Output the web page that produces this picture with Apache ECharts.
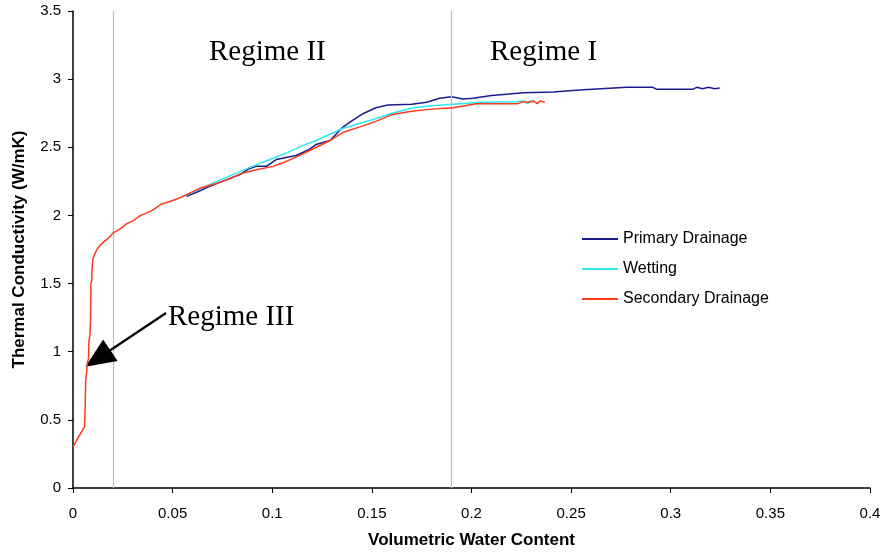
<!DOCTYPE html>
<html>
<head>
<meta charset="utf-8">
<script src="https://cdn.jsdelivr.net/npm/echarts@6/dist/echarts.min.js"></script>
<style>
  html, body { margin: 0; padding: 0; background: #fff; }
  #chart-container { width: 885px; height: 554px; }
</style>
</head>
<body>
<div id="chart-container"></div>
<script>
var dom = document.getElementById("chart-container");
var myChart = echarts.init(dom, null, { renderer: "canvas" });

var seriesNames = ["Primary Drainage", "Wetting", "Secondary Drainage"];
var seriesColors = ["#1c1c8e", "#2de8f2", "#ff3a1a"];

// [volumetric water content, thermal conductivity]
var primaryDrainage = [
  [0.057, 2.14], [0.062, 2.17], [0.068, 2.21], [0.075, 2.25], [0.0838, 2.30],
  [0.088, 2.34], [0.092, 2.36], [0.097, 2.36], [0.102, 2.41], [0.112, 2.44],
  [0.118, 2.48], [0.122, 2.52], [0.129, 2.55], [0.1356, 2.65], [0.1405, 2.70],
  [0.146, 2.75], [0.152, 2.79], [0.158, 2.81], [0.170, 2.815], [0.1775, 2.83],
  [0.184, 2.86], [0.190, 2.87], [0.1957, 2.855], [0.2007, 2.86], [0.210, 2.88],
  [0.2176, 2.89], [0.226, 2.90], [0.241, 2.905], [0.254, 2.92], [0.265, 2.93],
  [0.278, 2.94], [0.291, 2.94], [0.293, 2.925], [0.311, 2.925], [0.313, 2.94],
  [0.316, 2.93], [0.319, 2.94], [0.322, 2.93], [0.3246, 2.935]
];

var wetting = [
  [0.0545, 2.14], [0.060, 2.17], [0.066, 2.21], [0.072, 2.25], [0.082, 2.31],
  [0.090, 2.36], [0.0988, 2.41], [0.109, 2.47], [0.115, 2.51], [0.122, 2.55],
  [0.1356, 2.64], [0.145, 2.68], [0.152, 2.71], [0.160, 2.75], [0.171, 2.79],
  [0.180, 2.805], [0.1907, 2.815], [0.205, 2.83], [0.2226, 2.835], [0.2265, 2.84],
  [0.228, 2.82], [0.2295, 2.84], [0.231, 2.83]
];

var secondaryDrainage = [
  [0, 0.30], [0.003, 0.38], [0.0058, 0.45], [0.0060, 0.55], [0.0062, 0.56],
  [0.0064, 0.80], [0.0068, 0.84], [0.0072, 0.92], [0.0078, 0.95], [0.0080, 1.08],
  [0.0085, 1.12], [0.0088, 1.22], [0.0090, 1.50], [0.0094, 1.52], [0.0096, 1.62],
  [0.0100, 1.68], [0.0110, 1.72], [0.0120, 1.75], [0.0135, 1.78], [0.0150, 1.80],
  [0.0175, 1.83], [0.0200, 1.87], [0.0235, 1.90], [0.0270, 1.94], [0.0300, 1.96],
  [0.0340, 2.00], [0.0390, 2.03], [0.0440, 2.08], [0.0500, 2.11], [0.0554, 2.14],
  [0.0637, 2.20], [0.0710, 2.23], [0.0788, 2.27], [0.0850, 2.31], [0.0904, 2.33],
  [0.1004, 2.36], [0.1060, 2.39], [0.1122, 2.43], [0.1222, 2.50], [0.1290, 2.55],
  [0.1356, 2.61], [0.1440, 2.65], [0.1520, 2.69], [0.1600, 2.74], [0.1700, 2.765],
  [0.1800, 2.78], [0.1907, 2.79], [0.2025, 2.82], [0.2150, 2.82], [0.2233, 2.82],
  [0.2258, 2.835], [0.2290, 2.83], [0.2310, 2.84], [0.2330, 2.82], [0.2345, 2.84],
  [0.2368, 2.83]
];

// regime boundaries (x) and the arrow pointing at regime III
var regimeBounds = [0.02, 0.19];
var arrowFrom = [0.0467, 1.284];
var arrowTo = [0.0125, 0.95];

var allData = [primaryDrainage, wetting, secondaryDrainage];

var series = allData.map(function (d, i) {
  return {
    name: seriesNames[i],
    type: "line",
    data: d,
    symbol: "none",
    lineStyle: { width: 1.5, color: seriesColors[i] },
    itemStyle: { color: seriesColors[i] },
    z: 3 + i,
    animation: false
  };
});

// vertical regime lines + arrow go on helper series
series.push({
  name: "annot",
  type: "line",
  data: [],
  silent: true,
  animation: false,
  markLine: {
    silent: true,
    animation: false,
    symbol: ["none", "none"],
    label: { show: false },
    lineStyle: { color: "#bdbdbd", width: 1.2, type: "solid" },
    data: regimeBounds.map(function (v) { return { xAxis: v }; })
  }
});
series.push({
  name: "arrow",
  type: "line",
  data: [],
  silent: true,
  animation: false,
  markLine: {
    silent: true,
    animation: false,
    symbol: ["none", "triangle"],
    symbolSize: [26, 30],
    label: { show: false },
    lineStyle: { color: "#000", width: 2.2, type: "solid" },
    data: [[{ coord: arrowFrom }, { coord: arrowTo }]]
  }
});

var option = {
  animation: false,
  grid: { left: 73, right: 15, top: 11, bottom: 66 },
  legend: {
    data: seriesNames,
    orient: "vertical",
    left: 577,
    top: 226,
    itemWidth: 36,
    itemHeight: 2,
    itemGap: 14,
    icon: "rect",
    textStyle: { fontFamily: "Liberation Sans", fontSize: 16, color: "#000" }
  },
  xAxis: {
    type: "value",
    min: 0,
    max: 0.4,
    interval: 0.05,
    name: "Volumetric Water Content",
    nameLocation: "middle",
    nameGap: 44,
    nameTextStyle: { fontFamily: "Liberation Sans", fontSize: 17, fontWeight: "bold", color: "#000" },
    axisLine: { lineStyle: { color: "#000", width: 1.5 } },
    axisTick: { show: true, inside: false, length: 5, lineStyle: { color: "#000" } },
    axisLabel: { fontFamily: "Liberation Sans", fontSize: 15, color: "#000", margin: 18 },
    splitLine: { show: false }
  },
  yAxis: {
    type: "value",
    min: 0,
    max: 3.5,
    interval: 0.5,
    name: "Thermal Conductivity (W/mK)",
    nameLocation: "middle",
    nameGap: 45,
    nameTextStyle: { fontFamily: "Liberation Sans", fontSize: 17, fontWeight: "bold", color: "#000" },
    axisLine: { show: true, lineStyle: { color: "#000", width: 1.5 } },
    axisTick: { show: true, inside: false, length: 5, lineStyle: { color: "#000" } },
    axisLabel: { fontFamily: "Liberation Sans", fontSize: 15, color: "#000", margin: 12 },
    splitLine: { show: false }
  },
  graphic: [
    { type: "text", left: 209, top: 38, style: { text: "Regime II", fontFamily: "Liberation Serif", fontSize: 29, fill: "#000" } },
    { type: "text", left: 490, top: 38, style: { text: "Regime I", fontFamily: "Liberation Serif", fontSize: 29, fill: "#000" } },
    { type: "text", left: 168, top: 303, style: { text: "Regime III", fontFamily: "Liberation Serif", fontSize: 29, fill: "#000" } }
  ],
  series: series
};

myChart.setOption(option);

window.addEventListener("resize", function () {
  myChart.resize();
});
</script>
</body>
</html>
